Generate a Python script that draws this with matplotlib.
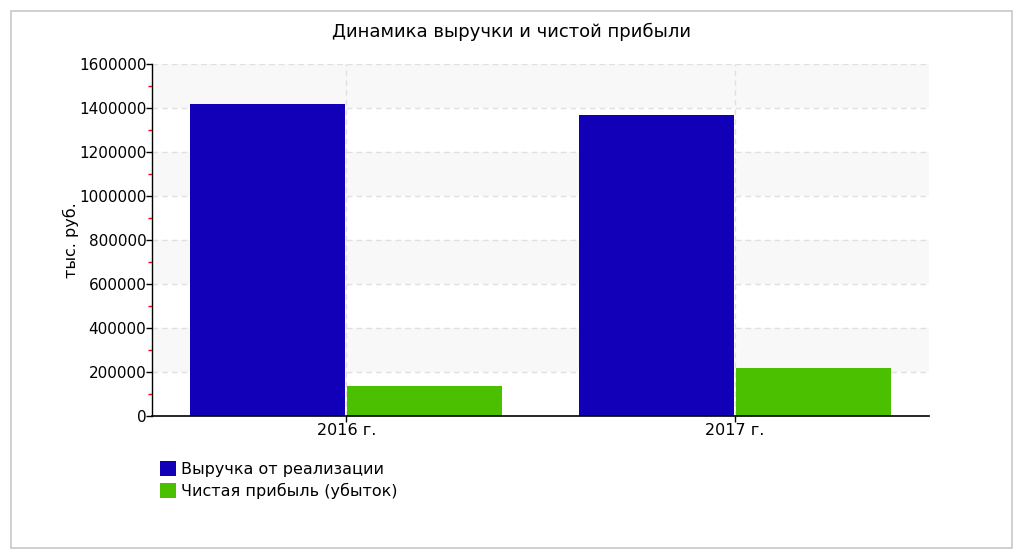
import matplotlib
matplotlib.use("Agg")
import matplotlib.pyplot as plt
from matplotlib.patches import Rectangle, Patch
from matplotlib.ticker import MultipleLocator
import numpy as np

categories = ["2016 г.", "2017 г."]
revenue = [1418000, 1368000]
profit = [136000, 218000]
series_names = ["Выручка от реализации", "Чистая прибыль (убыток)"]
colors = ["#1100b8", "#4bc000"]

plt.rcParams['font.family'] = ['DejaVu Sans']

fig = plt.figure(figsize=(10.24, 5.6), dpi=100)
fig.patches.append(Rectangle((11/1024, 1-548/560), 1001/1024, 537/560,
                             transform=fig.transFigure, fill=False,
                             edgecolor="#c8c8c8", linewidth=1.2))

ax = fig.add_axes([152/1024, 1-416/560, 777/1024, 352/560])
x = np.arange(len(categories))
w = 0.4
ax.set_xlim(-0.5, len(categories)-0.5)
ax.set_ylim(0, 1600000)

# alternating bands
for lo in range(200000, 1600000, 400000):
    ax.axhspan(lo, lo+200000, color="#f8f8f8", zorder=0, linewidth=0)
for yv in range(200000, 1600001, 200000):
    ax.axhline(yv, color="#e0e0e0", linestyle=(0, (4, 3)), linewidth=1, zorder=0.5)
for xv in x:
    ax.axvline(xv, color="#e0e0e0", linestyle=(0, (4, 3)), linewidth=1, zorder=0.5)

ax.bar(x - w/2 - 0.002, revenue, width=w, color=colors[0], zorder=2, linewidth=0)
ax.bar(x + w/2 + 0.002, profit, width=w, color=colors[1], zorder=2, linewidth=0)

ax.set_xticks(x)
ax.set_xticklabels(categories, fontsize=11.5)
ax.yaxis.set_major_locator(MultipleLocator(200000))
ax.yaxis.set_minor_locator(MultipleLocator(100000))
ax.yaxis.set_major_formatter(matplotlib.ticker.FuncFormatter(lambda v, p: f"{int(v)}"))
ax.tick_params(axis='y', which='major', labelsize=11, length=4, width=1, pad=0)
ax.tick_params(axis='y', which='minor', length=3, width=1, color="red")
ax.tick_params(axis='x', length=4, width=1, pad=1)
for s in ['top', 'right']:
    ax.spines[s].set_visible(False)
ax.spines['left'].set_linewidth(1)
ax.spines['bottom'].set_linewidth(1.2)
ax.set_facecolor("white")

ax.set_ylabel("тыс. руб.", fontsize=11.5)
ax.yaxis.set_label_coords((79-152)/777, 0.5)
fig.text(512/1024, 1-32/560, "Динамика выручки и чистой прибыли", ha='center', va='center', fontsize=13)

handles = [Patch(facecolor=colors[0]), Patch(facecolor=colors[1])]
fig.legend(handles, series_names, loc='upper left', bbox_to_anchor=(160/1024, 1-461/560),
           frameon=False, fontsize=11.5, handlelength=1.0, handleheight=1.05,
           handletextpad=0.3, labelspacing=0.38, borderpad=0, borderaxespad=0)

fig.savefig("out.png", dpi=100)
